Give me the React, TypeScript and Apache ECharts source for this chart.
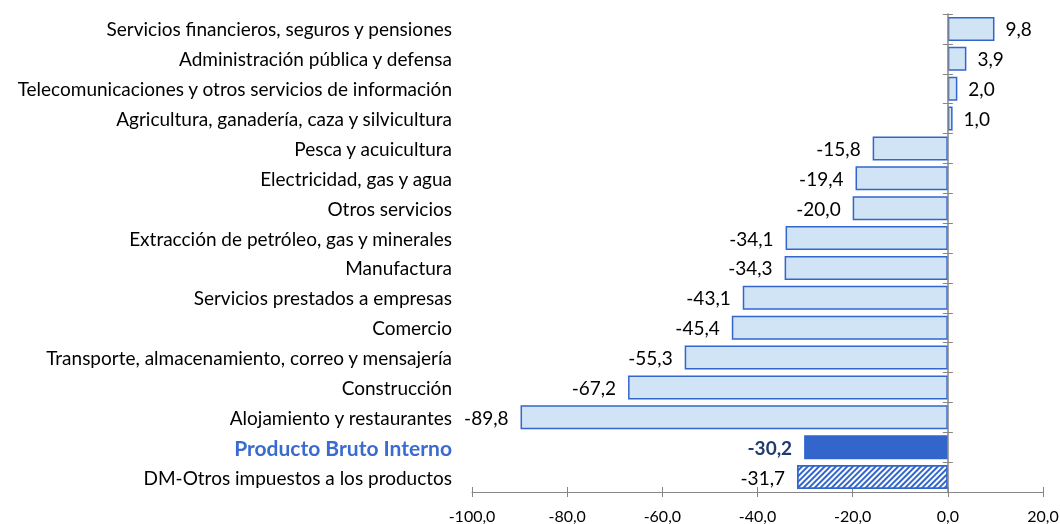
import React, { useEffect, useRef } from "react";
import * as echarts from "echarts";

const categories = [
  "Servicios financieros, seguros y pensiones",
  "Administración pública y defensa",
  "Telecomunicaciones y otros servicios de información",
  "Agricultura, ganadería, caza y silvicultura",
  "Pesca y acuicultura",
  "Electricidad, gas y agua",
  "Otros servicios",
  "Extracción de petróleo, gas y minerales",
  "Manufactura",
  "Servicios prestados a empresas",
  "Comercio",
  "Transporte, almacenamiento, correo y mensajería",
  "Construcción",
  "Alojamiento y restaurantes",
  "Producto Bruto Interno",
  "DM-Otros impuestos a los productos",
];
const values = [9.8, 3.9, 2.0, 1.0, -15.8, -19.4, -20.0, -34.1, -34.3, -43.1, -45.4, -55.3, -67.2, -89.8, -30.2, -31.7];
const xTicks = { min: -100, max: 20, interval: 20 };
const PBI = "Producto Bruto Interno";
const DM = "DM-Otros impuestos a los productos";

const FONT = "Lato, 'Open Sans', sans-serif";
const fmt = (v: number) => v.toFixed(1).replace(".", ",");
const AX = "#868686";

export default function App() {
  const ref = useRef<HTMLDivElement>(null);
  useEffect(() => {
    const chart = echarts.init(ref.current!, null, { renderer: "svg" });
    const W = 1060;
    const gl = 472;
    const gr = 17;
    const zeroX = gl + ((0 - xTicks.min) / (xTicks.max - xTicks.min)) * (W - gl - gr);
    const rightOffset = -(W - gr - zeroX);
    const data = values.map((v, i) => {
      const c = categories[i];
      const item: any = {
        value: v,
        label: v >= 0 ? { position: "right", distance: 11 } : { position: "left", distance: 12 },
      };
      if (c === PBI) {
        item.itemStyle = { color: "#3366CC", borderColor: "#3366CC" };
        item.label = { ...item.label, fontWeight: "bold", color: "#1F3B6E", fontSize: 19, distance: 12 };
      } else if (c === DM) {
        item.itemStyle = {
          color: "#ffffff",
          borderColor: "#3366CC",
          decal: {
            symbol: "rect",
            symbolSize: 1,
            color: "#3366CC",
            dashArrayX: [1, 0],
            dashArrayY: [2, 2],
            rotation: -Math.PI / 4,
          },
        };
      }
      return item;
    });
    const tickAxis = (inside: boolean) => ({
      type: "category",
      data: categories,
      inverse: true,
      position: "right",
      offset: rightOffset,
      axisLine: { show: !inside, onZero: false, lineStyle: { color: AX, width: 1.5 } },
      axisTick: { show: true, inside, length: 5, lineStyle: { color: AX } },
      axisLabel: { show: false },
      z: 5,
    });
    chart.setOption({
      animation: false,
      textStyle: { fontFamily: FONT },
      grid: { left: gl, right: gr, top: 14, bottom: 32, containLabel: false, outerBoundsMode: "none" },
      xAxis: [
        {
          type: "value",
          ...xTicks,
          axisLine: { show: true, onZero: false, lineStyle: { color: AX, width: 1 } },
          axisTick: { show: true, length: 5, lineStyle: { color: AX } },
          splitLine: { show: false },
          axisLabel: { formatter: (v: number) => fmt(v), color: "#000", fontSize: 16, fontFamily: FONT, margin: 15 },
        },
        {
          type: "value",
          ...xTicks,
          position: "bottom",
          axisLine: { show: false, onZero: false },
          axisTick: { show: true, inside: true, length: 5, lineStyle: { color: AX } },
          splitLine: { show: false },
          axisLabel: { show: false },
        },
      ],
      yAxis: [
        {
          type: "category",
          data: categories,
          inverse: true,
          position: "left",
          axisLine: { show: false },
          axisTick: { show: false },
          axisLabel: {
            margin: 20,
            fontSize: 19,
            color: "#000",
            fontFamily: FONT,
            formatter: (v: string) => (v === PBI ? "{b|" + v + "}" : v),
            rich: { b: { fontWeight: "bold", color: "#3A6BD1", fontSize: 21, fontFamily: FONT } },
          },
        },
        tickAxis(false),
        tickAxis(true),
      ],
      series: [
        {
          type: "bar",
          data,
          barCategoryGap: "20%",
          itemStyle: { color: "#D0E4F5", borderColor: "#3366CC", borderWidth: 1.5 },
          label: {
            show: true,
            fontSize: 19,
            color: "#000",
            fontFamily: FONT,
            formatter: (p: any) => fmt(p.value),
          },
        },
      ],
    });
    return () => chart.dispose();
  }, []);
  return <div ref={ref} style={{ position: "fixed", left: 0, top: 0, width: 1060, height: 524 }} />;
}
